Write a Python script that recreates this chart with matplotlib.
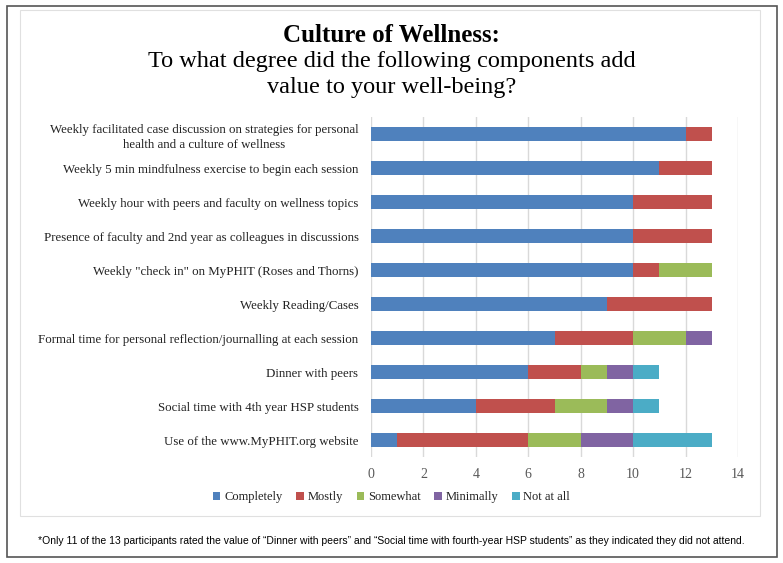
import numpy as np
import matplotlib.pyplot as plt
from matplotlib.patches import Rectangle

components = [
    "Weekly facilitated case discussion on strategies for personal\nhealth and a culture of wellness",
    "Weekly 5 min mindfulness exercise to begin each session",
    "Weekly hour with peers and faculty on wellness topics",
    "Presence of faculty and 2nd year as colleagues in discussions",
    "Weekly \"check in\" on MyPHIT (Roses and Thorns)",
    "Weekly Reading/Cases",
    "Formal time for personal reflection/journalling at each session",
    "Dinner with peers",
    "Social time with 4th year HSP students",
    "Use of the www.MyPHIT.org website",
]
completely = [12, 11, 10, 10, 10, 9, 7, 6, 4, 1]
mostly = [1, 2, 3, 3, 1, 4, 3, 2, 3, 5]
somewhat = [0, 0, 0, 0, 2, 0, 2, 1, 2, 2]
minimally = [0, 0, 0, 0, 0, 0, 1, 1, 1, 2]
not_at_all = [0, 0, 0, 0, 0, 0, 0, 1, 1, 3]

series = [("Completely", completely, "#4F81BD"),
          ("Mostly", mostly, "#C0504D"),
          ("Somewhat", somewhat, "#9BBB59"),
          ("Minimally", minimally, "#8064A2"),
          ("Not at all", not_at_all, "#4BACC6")]

serif = ["Liberation Serif", "DejaVu Serif"]

fig = plt.figure(figsize=(7.83, 5.63), dpi=100)
ax = fig.add_axes([371 / 783, 1 - 457 / 563, (738 - 371) / 783, 340 / 563])

y = np.arange(len(components))
left = np.zeros(len(components))
for name, vals, col in series:
    ax.barh(y, vals, left=left, height=0.4, color=col, label=name, zorder=3)
    left += np.array(vals)

ax.set_xlim(0, 14)
ax.set_ylim(len(components) - 0.5, -0.5)
ax.set_xticks(np.arange(0, 15, 2))
ax.set_yticks(y)
ax.set_yticklabels(components, fontfamily=serif, fontsize=9.3, color="#222222")
for t in ax.get_yticklabels():
    t.set_multialignment("center")
    t.set_linespacing(1.35)
for t in ax.get_xticklabels():
    t.set_fontfamily(serif)
    t.set_fontsize(10)
    t.set_color("#595959")
ax.tick_params(axis="both", length=0)
ax.tick_params(axis="y", pad=9)
ax.tick_params(axis="x", pad=8)
ax.grid(axis="x", color="#D9D9D9", linewidth=1, zorder=0)
for s in ax.spines.values():
    s.set_visible(False)

leg = fig.legend(loc="center", bbox_to_anchor=(0.5, 1 - 497 / 563), ncol=5,
                 frameon=False, handlelength=0.6, handleheight=0.6,
                 handletextpad=0.3, columnspacing=1.1,
                 prop={"family": serif, "size": 9})
for t in leg.get_texts():
    t.set_color("#222222")

fig.text(0.5, 1 - 35 / 563, "Culture of Wellness:", ha="center", va="center",
         fontfamily=serif, fontsize=18, fontweight="bold")
fig.text(0.5, 1 - 62 / 563, "To what degree did the following components add",
         ha="center", va="center", fontfamily=serif, fontsize=17.5)
fig.text(0.5, 1 - 88 / 563, "value to your well-being?",
         ha="center", va="center", fontfamily=serif, fontsize=17.5)

fig.text(0.5, 1 - 541 / 563,
         "*Only 11 of the 13 participants rated the value of \u201cDinner with peers\u201d and \u201cSocial time with fourth-year HSP students\u201d as they indicated they did not attend.",
         ha="center", va="center", fontfamily=["Liberation Sans", "DejaVu Sans"], fontsize=7.5)

# outer frame and chart frame
fig.patches.append(Rectangle((7 / 783, 1 - 557 / 563), 770 / 783, 551 / 563,
                             transform=fig.transFigure, fill=False,
                             edgecolor="#555555", linewidth=1.2))
fig.patches.append(Rectangle((20 / 783, 1 - 516 / 563), 740 / 783, 506 / 563,
                             transform=fig.transFigure, fill=False,
                             edgecolor="#E0E0E0", linewidth=0.8))

fig.savefig("out.png", dpi=100)
